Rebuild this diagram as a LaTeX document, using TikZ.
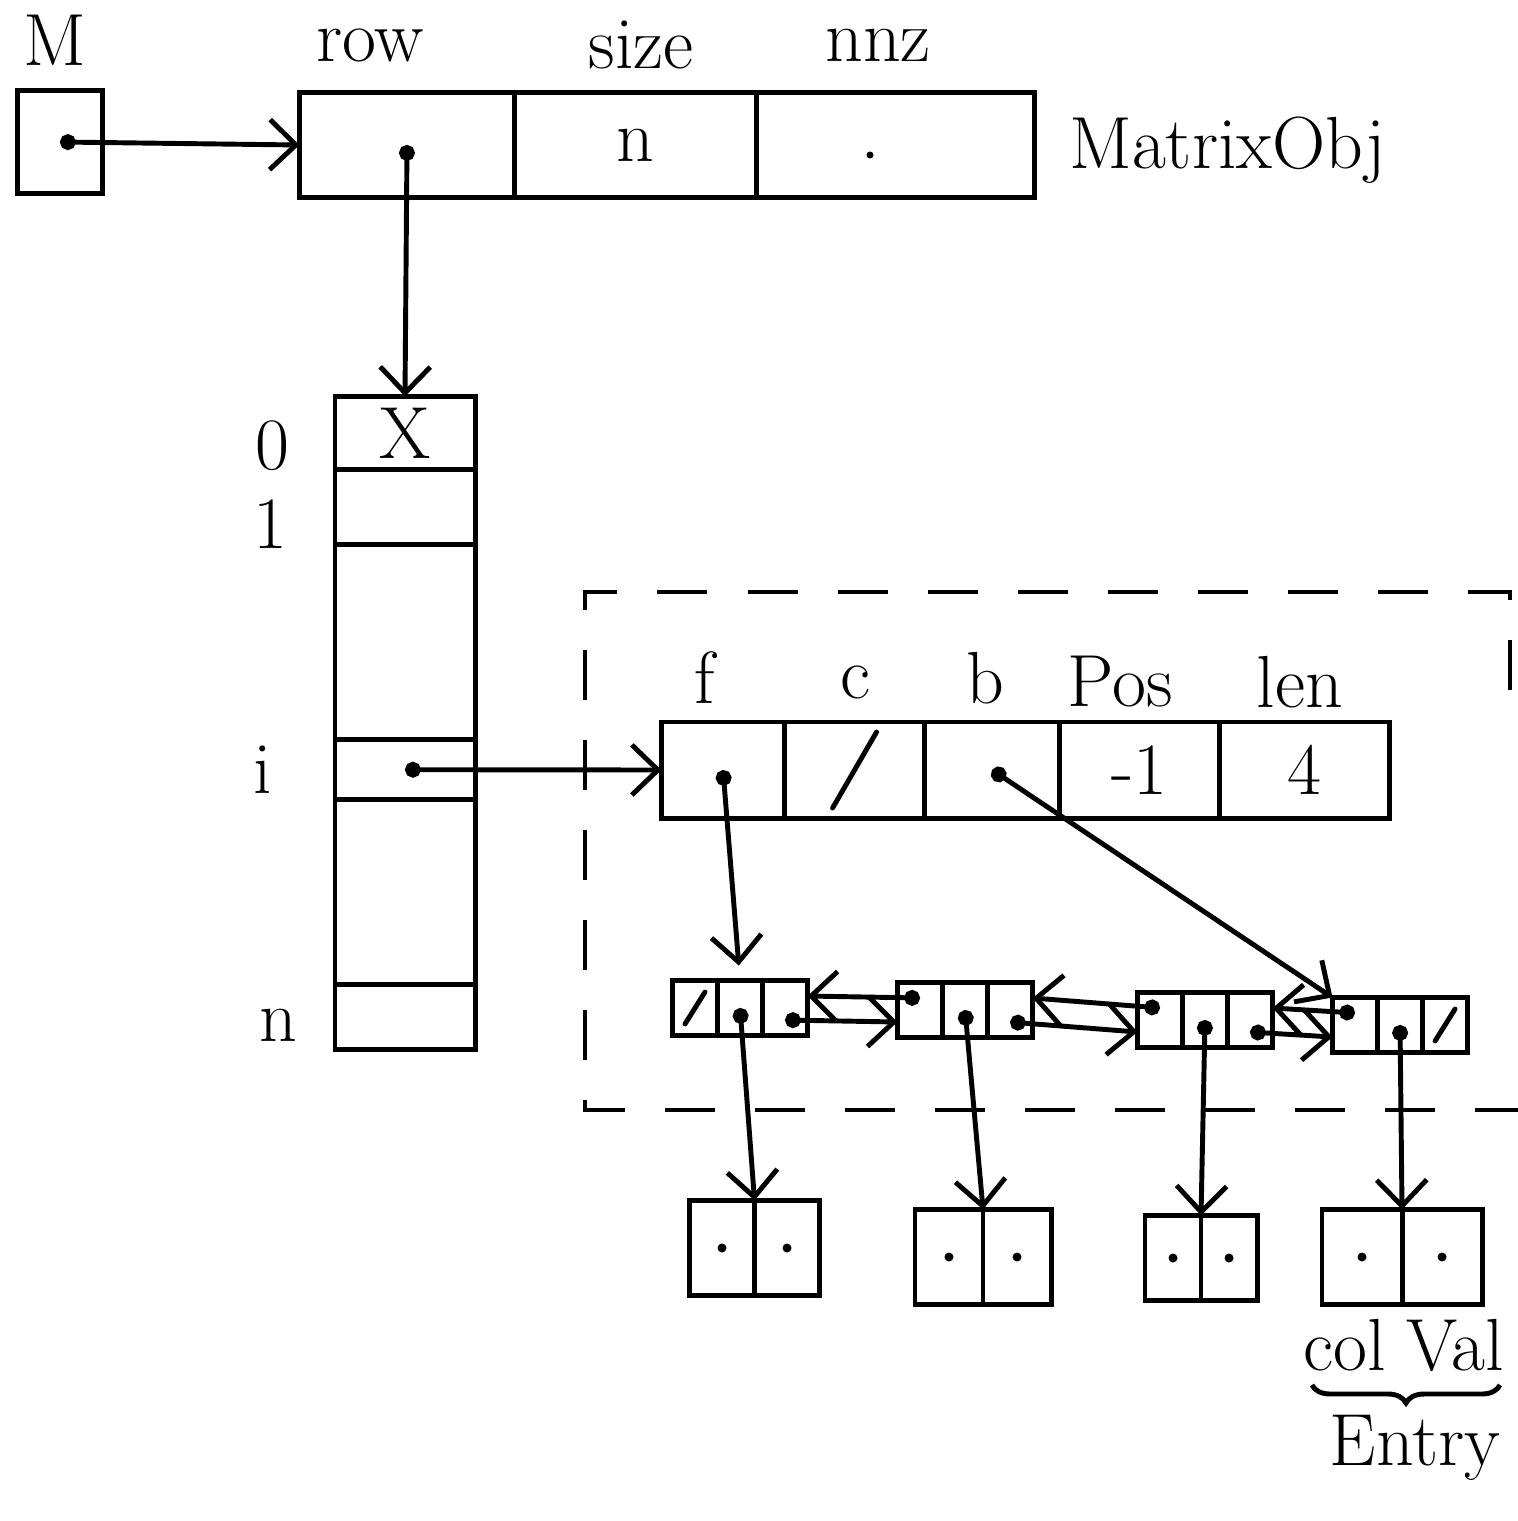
\documentclass[tikz,border=0pt]{standalone}
\usepackage{tikz}
\usetikzlibrary{positioning,calc}
\usetikzlibrary{arrows.meta,decorations.pathreplacing}
\tikzset{
  cell/.style={draw=black,line width=1.4pt,inner sep=0pt,outer sep=0pt,font=\fontsize{21}{25}\selectfont},
  hand/.style={font=\fontsize{21}{25}\selectfont,inner sep=1pt},
  ptr/.style={draw=black,line width=1.4pt,{Circle[length=4.5pt]}-{Straight Barb[length=2.6mm,width=5mm]}},
  nul/.style={line width=1.4pt,line cap=round},
  dashline/.style={line width=1.4pt,dash pattern=on 0.5cm off 0.4cm},
}
\tikzset{ecell/.style={cell,minimum height=0.95cm}, lcell/.style={cell,minimum height=0.96cm}, ncell/.style={cell,minimum width=0.45cm,minimum height=0.55cm}}

\begin{document}
\begin{tikzpicture}[x=0.01cm,y=-0.01cm]
\useasboundingbox (0,0) rectangle (1518,1521);
% M and the matrix object
\node[hand] (mlab) at (55,40) {M};
\node[cell,minimum width=0.85cm,minimum height=1.03cm] (mbox) at (60,142) {};
\node[cell,minimum width=2.15cm,minimum height=1.05cm] (mrow) at (407,145) {};
\node[cell,minimum width=2.42cm,minimum height=1.05cm,right=0pt of mrow] (msize) {n};
\node[cell,minimum width=2.78cm,minimum height=1.05cm,right=0pt of msize] (mnnz) {};
\node[hand] (rowlab) at (370,45) {row};
\node[hand] (sizelab) at (641,45) {size};
\node[hand] (nnzlab) at (878,45) {nnz};
\node[hand,anchor=west] (objlab) at (1065,150) {MatrixObj};
\fill (870,155) circle[radius=0.035cm];
% row array
\node[cell,minimum width=1.4cm,minimum height=0.73cm] (r0) at (405,433) {X};
\node[cell,minimum width=1.4cm,minimum height=0.75cm,below=0pt of r0] (r1) {};
\node[cell,minimum width=1.4cm,minimum height=1.95cm,below=0pt of r1] (rg1) {};
\node[cell,minimum width=1.4cm,minimum height=0.60cm,below=0pt of rg1] (ri) {};
\node[cell,minimum width=1.4cm,minimum height=1.85cm,below=0pt of ri] (rg2) {};
\node[cell,minimum width=1.4cm,minimum height=0.65cm,below=0pt of rg2] (rn) {};
\node[hand] (i0) at (272,446) {0};
\node[hand] (i1) at (270,524) {1};
\node[hand] (ii) at (263,770) {i};
\node[hand] (in) at (278,1025) {n};
% the list object
\draw[dashline] (1510,690) |- (585,592) |- (1518,1110);
\node[lcell,minimum width=1.23cm] (lf) at (723,770) {};
\node[lcell,minimum width=1.40cm,right=0pt of lf] (lc) {};
\node[lcell,minimum width=1.35cm,right=0pt of lc] (lb) {};
\node[lcell,minimum width=1.60cm,right=0pt of lb] (lpos) {-1};
\node[lcell,minimum width=1.70cm,right=0pt of lpos] (llen) {4};
\draw[nul] (lc.center) +(-22,38) -- +(22,-38);
\node[hand] (flab) at (705,678) {f};
\node[hand] (clab) at (855,682) {c};
\node[hand] (blab) at (985,678) {b};
\node[hand] (poslab) at (1120,682) {Pos};
\node[hand] (lenlab) at (1300,682) {len};
% linked nodes
\node[ncell] (n1a) at (695,1008) {};
\node[ncell,right=0pt of n1a] (n1b) {};
\node[ncell,right=0pt of n1b] (n1c) {};
\node[ncell] (n2a) at (920,1010) {};
\node[ncell,right=0pt of n2a] (n2b) {};
\node[ncell,right=0pt of n2b] (n2c) {};
\node[ncell] (n3a) at (1160,1020) {};
\node[ncell,right=0pt of n3a] (n3b) {};
\node[ncell,right=0pt of n3b] (n3c) {};
\node[ncell] (n4a) at (1355,1025) {};
\node[ncell,right=0pt of n4a] (n4b) {};
\node[ncell,right=0pt of n4b] (n4c) {};
\draw[nul] (n1a.center) +(-10,16) -- +(10,-16);
\draw[nul] (n4c.center) +(-10,16) -- +(10,-16);
% entries
\node[ecell,minimum width=0.65cm] (e1a) at (722,1248) {};
\node[ecell,minimum width=0.65cm,right=0pt of e1a] (e1b) {};
\node[ecell,minimum width=0.68cm] (e2a) at (949,1257) {};
\node[ecell,minimum width=0.68cm,right=0pt of e2a] (e2b) {};
\node[ecell,minimum width=0.56cm,minimum height=0.85cm] (e3a) at (1173,1258) {};
\node[ecell,minimum width=0.56cm,minimum height=0.85cm,right=0pt of e3a] (e3b) {};
\node[ecell,minimum width=0.80cm] (e4a) at (1362,1257) {};
\node[ecell,minimum width=0.80cm,right=0pt of e4a] (e4b) {};
\foreach \e in {e1a,e1b,e2a,e2b,e3a,e3b,e4a,e4b}
  \fill (\e.center) circle[radius=0.045cm];
\node[hand] (collab) at (1345,1345) {col};
\node[hand] (vallab) at (1455,1345) {Val};
\coordinate (bl) at (1312,1385);
\coordinate (br) at (1500,1385);
\draw[line width=1.4pt,decorate,decoration={brace,mirror,amplitude=0.18cm}] (bl) -- (br);
\node[hand] (entlab) at (1415,1448) {Entry};
% pointers
\draw[ptr] (mbox.center) -- (mrow.west);
\draw[ptr] (mrow.center) -- (r0.north);
\draw[ptr] (ri.center) -- (lf.west);
\draw[ptr,shorten >=0.15cm] (lf.center) -- (n1b.north);
\draw[ptr] (lb.center) -- (n4a.north west);
\draw[ptr] ([yshift=0.12cm]n2a.center) -- ([yshift=0.12cm]n1c.east);
\draw[ptr] ([yshift=-0.12cm]n1c.center) -- ([yshift=-0.12cm]n2a.west);
\draw[ptr] ([yshift=0.12cm]n3a.center) -- ([yshift=0.12cm]n2c.east);
\draw[ptr] ([yshift=-0.12cm]n2c.center) -- ([yshift=-0.12cm]n3a.west);
\draw[ptr] ([yshift=0.12cm]n4a.center) -- ([yshift=0.12cm]n3c.east);
\draw[ptr] ([yshift=-0.12cm]n3c.center) -- ([yshift=-0.12cm]n4a.west);
\draw[ptr] (n1b.center) -- (e1a.north east);
\draw[ptr] (n2b.center) -- (e2a.north east);
\draw[ptr] (n3b.center) -- (e3a.north east);
\draw[ptr] (n4b.center) -- (e4a.north east);
\end{tikzpicture}
\end{document}
